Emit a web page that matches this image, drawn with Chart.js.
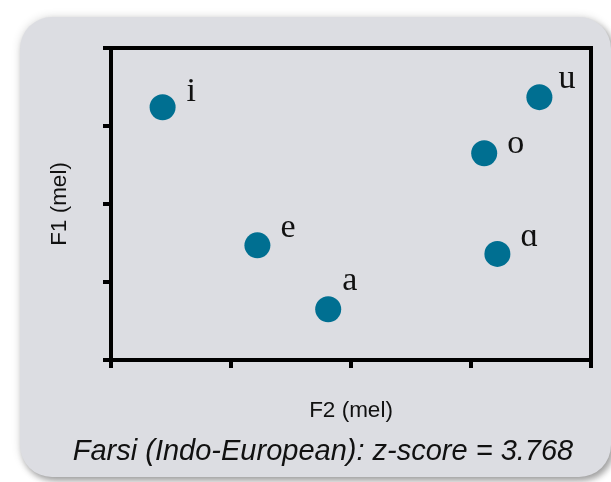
<!DOCTYPE html>
<html>
<head>
<meta charset="utf-8">
<script src="https://cdn.jsdelivr.net/npm/chart.js@4/dist/chart.umd.min.js"></script>
<style>
  html, body { margin: 0; padding: 0; background: #ffffff; }
  #wrap { position: relative; width: 611px; height: 482px; overflow: hidden; }
  #card {
    position: absolute; left: 20px; top: 17px; width: 591px; height: 460px;
    background: #dcdde2; border-radius: 32px;
    box-shadow: 0 0 10px rgba(0,0,0,0.14), 3px 4px 6px rgba(0,0,0,0.32);
  }
  #chart { position: absolute; left: 0; top: 0; }
  #caption {
    position: absolute; left: 0; width: 646px; top: 432px; text-align: center;
    font: italic 29px "Liberation Sans", Arial, sans-serif; color: #111;
    line-height: 36px; white-space: nowrap;
  }
</style>
</head>
<body>
<div id="wrap">
  <div id="card"></div>
  <canvas id="chart" width="611" height="482"></canvas>
  <div id="caption">Farsi (Indo-European): z-score = 3.768</div>
</div>
<script>
// Vowel means for Farsi, in normalised formant units
const vowels = ['i', 'e', 'a', 'o', 'ɑ', 'u'];
const f2Values = [0.43, 1.22, 1.81, 3.11, 3.22, 3.57];
const f1Values = [3.24, 1.47, 0.65, 2.65, 1.36, 3.37];

const points = vowels.map((v, i) => ({ x: f2Values[i], y: f1Values[i] }));

// Writes each vowel symbol just above and to the right of its dot
const vowelLabels = {
  id: 'vowelLabels',
  afterDatasetsDraw(chart, args, opts) {
    const ctx = chart.ctx;
    const meta = chart.getDatasetMeta(0);
    const nudge = opts.nudge || {};
    ctx.save();
    ctx.font = '34px "Liberation Serif", "DejaVu Serif", serif';
    ctx.fillStyle = '#111';
    ctx.textAlign = 'left';
    ctx.textBaseline = 'alphabetic';
    meta.data.forEach((el, i) => {
      const n = nudge[vowels[i]] || { dx: 0, dy: 0 };
      ctx.fillText(vowels[i], el.x + opts.dx + n.dx, el.y + opts.dy + n.dy);
    });
    ctx.restore();
  }
};

// Closes the plot box with top and right edges
const frameBox = {
  id: 'frameBox',
  afterDraw(chart) {
    const { ctx, chartArea: a } = chart;
    ctx.save();
    ctx.strokeStyle = '#000';
    ctx.lineWidth = 4;
    ctx.lineCap = 'square';
    ctx.beginPath();
    ctx.moveTo(a.left, a.top);
    ctx.lineTo(a.right, a.top);
    ctx.lineTo(a.right, a.bottom);
    ctx.stroke();
    ctx.restore();
  }
};

new Chart(document.getElementById('chart'), {
  type: 'scatter',
  data: {
    datasets: [{
      data: points,
      pointRadius: 13,
      pointHoverRadius: 13,
      pointBackgroundColor: 'rgb(0,111,145)',
      pointBorderWidth: 0,
      borderWidth: 0
    }]
  },
  options: {
    responsive: false,
    animation: false,
    events: [],
    layout: { padding: { top: 48, right: 20, bottom: 0, left: 20 } },
    plugins: {
      legend: { display: false },
      tooltip: { enabled: false },
      title: { display: false },
      vowelLabels: {
        dx: 23, dy: -8,
        nudge: {
          i: { dx: 1, dy: 2 },
          a: { dx: -9, dy: -11 },
          o: { dx: 0, dy: 8 },
          u: { dx: -4, dy: -1 }
        }
      }
    },
    scales: {
      x: {
        min: 0, max: 4,
        ticks: { display: false, stepSize: 1 },
        grid: { display: true, drawOnChartArea: false, drawTicks: true, tickLength: 8, color: '#000', lineWidth: 4 },
        border: { display: true, color: '#000', width: 4 },
        title: {
          display: true, text: 'F2 (mel)', color: '#111',
          font: { family: '"Liberation Sans", Arial, sans-serif', size: 22.5 },
          padding: { top: 0, bottom: 58 }
        },
        afterFit(scale) { scale.height = 122; }
      },
      y: {
        min: 0, max: 4,
        ticks: { display: false, stepSize: 1 },
        grid: { display: true, drawOnChartArea: false, drawTicks: true, tickLength: 8, color: '#000', lineWidth: 4 },
        border: { display: true, color: '#000', width: 4 },
        title: {
          display: true, text: 'F1 (mel)', color: '#111',
          font: { family: '"Liberation Sans", Arial, sans-serif', size: 22.5 },
          padding: { top: 26, bottom: 0 }
        },
        afterFit(scale) { scale.width = 91; }
      }
    }
  },
  plugins: [vowelLabels, frameBox]
});
</script>
</body>
</html>
